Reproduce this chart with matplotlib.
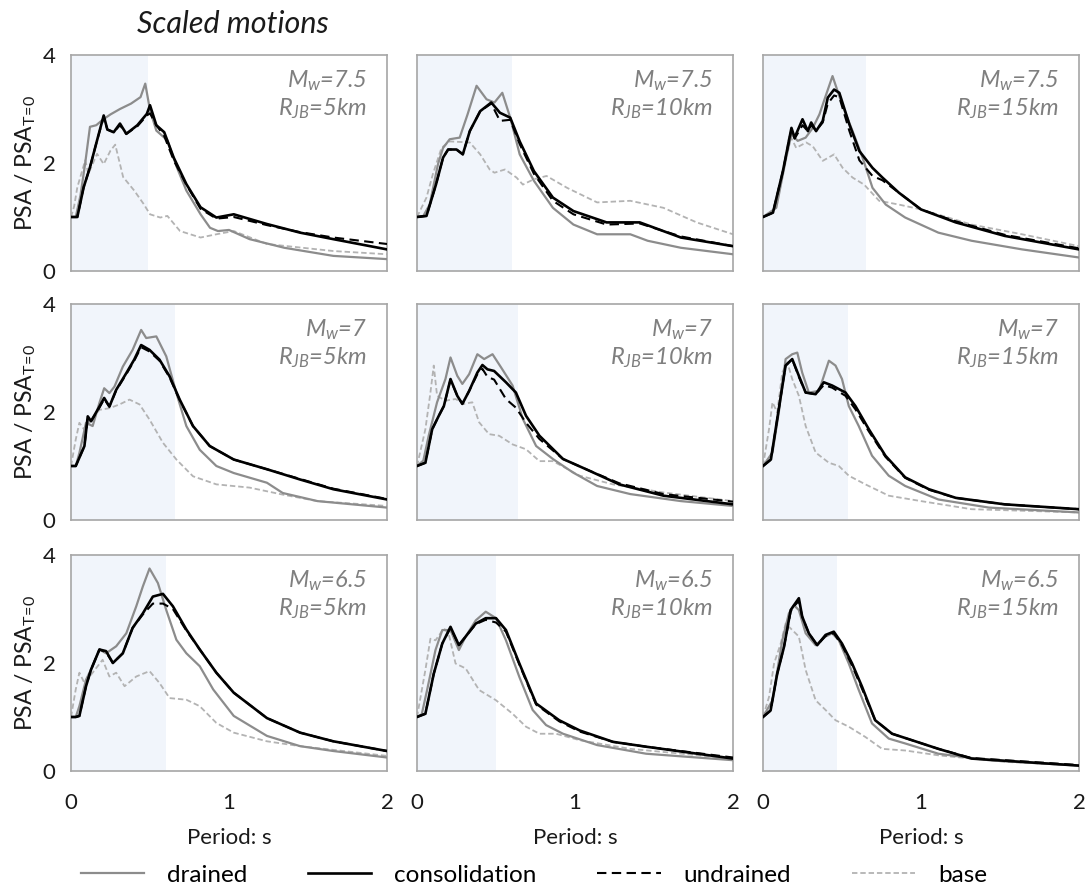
import matplotlib
matplotlib.use("Agg")
import matplotlib.pyplot as plt

plt.rcParams['font.family'] = ['Lato', 'DejaVu Sans']
plt.rcParams['mathtext.fontset'] = 'custom'
plt.rcParams['mathtext.rm'] = 'Lato'
plt.rcParams['mathtext.it'] = 'Lato:italic'
plt.rcParams['mathtext.bf'] = 'Lato:bold'

# ---------------- data ----------------
magnitudes = ["7.5", "7", "6.5"]
distances = ["5km", "10km", "15km"]
shade_end = [[0.49, 0.60, 0.65],
             [0.66, 0.64, 0.54],
             [0.60, 0.50, 0.47]]
series_names = ["drained", "consolidation", "undrained", "base"]
x_ticks = [0, 1, 2]
y_ticks = [0, 2, 4]

# Mw 7.5, R 5 km
d_75_5_T = [0, 0.03, 0.06, 0.09, 0.12, 0.16, 0.2, 0.25, 0.31, 0.38, 0.44, 0.47, 0.50, 0.54, 0.61, 0.67, 0.73, 0.82, 0.88, 0.93, 1.0, 1.13, 1.35, 1.66, 2.0]
d_75_5_V = [1.0, 1.0, 1.4, 2.0, 2.67, 2.7, 2.8, 2.9, 3.0, 3.1, 3.22, 3.47, 2.98, 2.6, 2.42, 1.92, 1.49, 1.05, 0.8, 0.74, 0.76, 0.59, 0.43, 0.28, 0.22]
c_75_5_T = [0, 0.04, 0.08, 0.12, 0.165, 0.207, 0.23, 0.27, 0.31, 0.35, 0.42, 0.48, 0.50, 0.54, 0.59, 0.65, 0.73, 0.82, 0.92, 1.03, 1.24, 1.45, 1.66, 2.0]
c_75_5_V = [1.0, 1.0, 1.55, 1.92, 2.42, 2.88, 2.62, 2.57, 2.73, 2.54, 2.7, 2.91, 3.07, 2.7, 2.57, 2.1, 1.61, 1.18, 0.99, 1.05, 0.87, 0.71, 0.59, 0.4]
u_75_5_T = c_75_5_T
u_75_5_V = [1.0, 1.0, 1.55, 1.92, 2.42, 2.85, 2.62, 2.57, 2.7, 2.54, 2.68, 2.88, 2.92, 2.7, 2.5, 2.05, 1.6, 1.15, 0.97, 1.0, 0.85, 0.72, 0.62, 0.5]
b_75_5_T = [0, 0.02, 0.04, 0.09, 0.11, 0.165, 0.207, 0.25, 0.28, 0.33, 0.40, 0.46, 0.50, 0.565, 0.61, 0.69, 0.82, 0.92, 1.03, 1.24, 1.66, 2.0]
b_75_5_V = [1.0, 1.2, 1.55, 2.05, 1.8, 2.17, 1.98, 2.23, 2.34, 1.74, 1.49, 1.24, 1.05, 0.99, 1.02, 0.74, 0.62, 0.68, 0.74, 0.5, 0.37, 0.31]

# Mw 7.5, R 10 km
d_75_10_T = [0, 0.04, 0.08, 0.133, 0.165, 0.207, 0.27, 0.32, 0.377, 0.44, 0.49, 0.54, 0.59, 0.65, 0.74, 0.86, 0.99, 1.14, 1.35, 1.46, 1.67, 2.0]
d_75_10_V = [1.0, 1.02, 1.23, 1.98, 2.28, 2.44, 2.47, 2.9, 3.43, 3.18, 3.12, 3.3, 2.84, 2.16, 1.67, 1.17, 0.86, 0.68, 0.68, 0.56, 0.43, 0.31]
c_75_10_T = [0, 0.06, 0.12, 0.165, 0.197, 0.25, 0.29, 0.334, 0.4, 0.47, 0.525, 0.59, 0.65, 0.74, 0.86, 0.99, 1.2, 1.41, 1.67, 2.0]
c_75_10_V = [1.0, 1.02, 1.6, 2.1, 2.25, 2.25, 2.16, 2.59, 2.96, 3.12, 2.93, 2.84, 2.4, 1.85, 1.36, 1.11, 0.9, 0.9, 0.62, 0.46]
u_75_10_T = c_75_10_T
u_75_10_V = [1.0, 1.02, 1.6, 2.1, 2.25, 2.25, 2.16, 2.59, 2.96, 3.1, 2.78, 2.8, 2.35, 1.8, 1.3, 1.05, 0.86, 0.88, 0.64, 0.46]
b_75_10_T = [0, 0.06, 0.10, 0.155, 0.207, 0.334, 0.4, 0.46, 0.49, 0.557, 0.63, 0.67, 0.74, 0.82, 0.95, 1.14, 1.35, 1.56, 1.77, 2.0]
b_75_10_V = [1.0, 1.36, 1.79, 2.28, 2.4, 2.38, 2.16, 1.88, 1.82, 1.88, 1.73, 1.6, 1.7, 1.76, 1.54, 1.27, 1.3, 1.17, 0.9, 0.68]

# Mw 7.5, R 15 km
d_75_15_T = [0, 0.084, 0.147, 0.18, 0.22, 0.27, 0.315, 0.357, 0.4, 0.44, 0.5, 0.567, 0.63, 0.693, 0.777, 0.9, 1.11, 1.32, 1.64, 2.0]
d_75_15_V = [1.0, 1.17, 2.1, 2.53, 2.41, 2.47, 2.65, 2.9, 3.27, 3.61, 3.09, 2.59, 2.1, 1.54, 1.23, 0.99, 0.71, 0.56, 0.4, 0.25]
c_75_15_T = [0, 0.063, 0.126, 0.18, 0.2, 0.25, 0.284, 0.305, 0.336, 0.378, 0.41, 0.45, 0.483, 0.546, 0.61, 0.693, 0.756, 0.86, 1.0, 1.22, 1.53, 2.0]
c_75_15_V = [1.0, 1.08, 1.85, 2.65, 2.47, 2.81, 2.59, 2.75, 2.59, 2.78, 3.21, 3.36, 3.3, 2.72, 2.22, 1.91, 1.73, 1.45, 1.14, 0.9, 0.65, 0.4]
u_75_15_T = c_75_15_T
u_75_15_V = [1.0, 1.08, 1.85, 2.62, 2.45, 2.7, 2.59, 2.7, 2.6, 2.75, 3.1, 3.25, 3.22, 2.6, 2.05, 1.76, 1.68, 1.45, 1.14, 0.92, 0.67, 0.42]
b_75_15_T = [0, 0.063, 0.126, 0.168, 0.21, 0.273, 0.315, 0.378, 0.45, 0.504, 0.567, 0.64, 0.735, 0.86, 1.0, 1.32, 1.64, 2.0]
b_75_15_V = [1.0, 1.11, 1.85, 2.53, 2.28, 2.38, 2.31, 2.04, 2.16, 1.91, 1.73, 1.6, 1.3, 1.23, 1.14, 0.86, 0.68, 0.46]

# Mw 7, R 5 km
d_7_5_T = [0, 0.03, 0.053, 0.095, 0.137, 0.18, 0.21, 0.243, 0.275, 0.328, 0.39, 0.444, 0.476, 0.54, 0.603, 0.667, 0.73, 0.815, 0.92, 1.03, 1.24, 1.34, 1.56, 2.0]
d_7_5_V = [1.0, 1.0, 1.24, 1.8, 1.74, 2.17, 2.44, 2.35, 2.47, 2.84, 3.15, 3.52, 3.37, 3.4, 3.03, 2.35, 1.74, 1.3, 1.0, 0.87, 0.69, 0.5, 0.35, 0.23]
c_7_5_T = [0, 0.03, 0.085, 0.106, 0.127, 0.18, 0.21, 0.243, 0.286, 0.35, 0.4, 0.444, 0.497, 0.56, 0.624, 0.688, 0.772, 0.878, 1.03, 1.24, 1.45, 1.66, 2.0]
c_7_5_V = [1.0, 1.0, 1.37, 1.92, 1.83, 2.1, 2.26, 2.1, 2.41, 2.72, 2.97, 3.24, 3.15, 2.97, 2.66, 2.23, 1.74, 1.37, 1.12, 0.94, 0.75, 0.57, 0.38]
u_7_5_T = c_7_5_T
u_7_5_V = [1.0, 1.0, 1.37, 1.9, 1.83, 2.08, 2.24, 2.1, 2.4, 2.7, 2.95, 3.2, 3.12, 2.95, 2.64, 2.22, 1.74, 1.37, 1.12, 0.94, 0.76, 0.58, 0.39]
b_7_5_T = [0, 0.03, 0.053, 0.085, 0.137, 0.18, 0.243, 0.307, 0.37, 0.434, 0.497, 0.582, 0.667, 0.772, 0.92, 1.13, 1.34, 1.56, 2.0]
b_7_5_V = [1.0, 1.49, 1.8, 1.67, 1.89, 2.04, 2.07, 2.14, 2.23, 2.14, 1.86, 1.43, 1.12, 0.81, 0.66, 0.6, 0.47, 0.35, 0.26]

# Mw 7, R 10 km
d_7_10_T = [0, 0.04, 0.074, 0.127, 0.18, 0.212, 0.255, 0.287, 0.33, 0.382, 0.425, 0.478, 0.54, 0.605, 0.67, 0.754, 0.86, 0.987, 1.14, 1.35, 1.67, 2.0]
d_7_10_V = [1.0, 1.1, 1.56, 2.18, 2.61, 3.01, 2.67, 2.52, 2.7, 3.07, 2.98, 3.07, 2.79, 2.49, 1.87, 1.37, 1.13, 0.88, 0.63, 0.48, 0.35, 0.26]
c_7_10_T = [0, 0.053, 0.096, 0.138, 0.17, 0.212, 0.255, 0.287, 0.33, 0.382, 0.414, 0.446, 0.488, 0.563, 0.626, 0.69, 0.775, 0.924, 1.07, 1.28, 1.56, 2.0]
c_7_10_V = [1.0, 1.06, 1.68, 1.93, 2.11, 2.61, 2.3, 2.15, 2.39, 2.73, 2.87, 2.79, 2.76, 2.55, 2.36, 1.93, 1.56, 1.13, 0.94, 0.66, 0.45, 0.29]
u_7_10_T = c_7_10_T
u_7_10_V = [1.0, 1.06, 1.68, 1.93, 2.11, 2.6, 2.3, 2.15, 2.39, 2.7, 2.8, 2.65, 2.6, 2.24, 2.08, 1.8, 1.5, 1.13, 0.94, 0.68, 0.48, 0.34]
b_7_10_T = [0, 0.053, 0.085, 0.106, 0.127, 0.18, 0.244, 0.297, 0.35, 0.393, 0.456, 0.52, 0.605, 0.69, 0.775, 0.86, 1.03, 1.24, 1.56, 2.0]
b_7_10_V = [1.0, 1.68, 2.36, 2.86, 2.3, 2.21, 2.24, 2.15, 2.18, 1.81, 1.59, 1.56, 1.4, 1.31, 1.09, 1.09, 0.82, 0.66, 0.51, 0.35]

# Mw 7, R 15 km
d_7_15_T = [0, 0.06, 0.1, 0.143, 0.185, 0.217, 0.248, 0.29, 0.354, 0.417, 0.459, 0.5, 0.543, 0.606, 0.69, 0.796, 0.9, 1.11, 1.43, 2.0]
d_7_15_V = [1.0, 1.25, 1.99, 2.98, 3.07, 3.1, 2.73, 2.36, 2.39, 2.95, 2.86, 2.61, 2.11, 1.74, 1.19, 0.82, 0.63, 0.38, 0.23, 0.14]
c_7_15_T = [0, 0.05, 0.09, 0.143, 0.185, 0.227, 0.27, 0.333, 0.385, 0.438, 0.522, 0.585, 0.67, 0.775, 0.9, 1.05, 1.22, 1.53, 2.0]
c_7_15_V = [1.0, 1.12, 1.87, 2.86, 2.98, 2.67, 2.36, 2.33, 2.55, 2.49, 2.36, 2.11, 1.68, 1.19, 0.79, 0.57, 0.41, 0.29, 0.2]
u_7_15_T = c_7_15_T
u_7_15_V = [1.0, 1.12, 1.87, 2.86, 2.98, 2.65, 2.36, 2.33, 2.5, 2.45, 2.3, 2.05, 1.64, 1.17, 0.78, 0.56, 0.41, 0.29, 0.2]
b_7_15_T = [0, 0.038, 0.06, 0.09, 0.122, 0.154, 0.185, 0.227, 0.27, 0.333, 0.417, 0.48, 0.543, 0.648, 0.796, 1.0, 1.32, 2.0]
b_7_15_V = [1.0, 1.68, 2.18, 1.99, 2.73, 2.92, 2.61, 2.3, 1.74, 1.25, 1.06, 1.0, 0.82, 0.66, 0.45, 0.35, 0.2, 0.14]

# Mw 6.5, R 5 km
d_65_5_T = [0, 0.03, 0.053, 0.095, 0.137, 0.18, 0.222, 0.286, 0.35, 0.413, 0.455, 0.497, 0.55, 0.603, 0.667, 0.73, 0.815, 0.9, 1.03, 1.24, 1.45, 1.66, 2.0]
d_65_5_V = [1.0, 1.0, 1.2, 1.69, 1.94, 2.25, 2.18, 2.31, 2.55, 3.05, 3.42, 3.75, 3.48, 2.98, 2.43, 2.18, 1.94, 1.51, 1.02, 0.65, 0.46, 0.37, 0.25]
c_65_5_T = [0, 0.03, 0.053, 0.095, 0.127, 0.18, 0.222, 0.265, 0.328, 0.39, 0.455, 0.518, 0.582, 0.645, 0.73, 0.815, 0.92, 1.03, 1.24, 1.45, 1.66, 2.0]
c_65_5_V = [1.0, 1.0, 1.02, 1.57, 1.88, 2.25, 2.22, 2.0, 2.18, 2.65, 2.92, 3.23, 3.28, 3.05, 2.62, 2.25, 1.82, 1.45, 0.98, 0.71, 0.55, 0.37]
u_65_5_T = c_65_5_T
u_65_5_V = [1.0, 1.0, 1.02, 1.57, 1.88, 2.25, 2.2, 2.0, 2.18, 2.65, 2.9, 3.1, 3.1, 3.0, 2.6, 2.25, 1.82, 1.45, 0.98, 0.71, 0.55, 0.37]
b_65_5_T = [0, 0.03, 0.053, 0.085, 0.137, 0.2, 0.243, 0.286, 0.339, 0.413, 0.497, 0.56, 0.624, 0.73, 0.815, 0.92, 1.03, 1.24, 1.45, 2.0]
b_65_5_V = [1.0, 1.51, 1.82, 1.63, 1.82, 2.06, 1.75, 1.82, 1.57, 1.75, 1.85, 1.63, 1.35, 1.32, 1.2, 0.89, 0.71, 0.55, 0.46, 0.28]

# Mw 6.5, R 10 km
d_65_10_T = [0, 0.03, 0.064, 0.117, 0.16, 0.212, 0.265, 0.308, 0.372, 0.435, 0.5, 0.563, 0.648, 0.732, 0.817, 0.924, 1.14, 1.45, 2.0]
d_65_10_V = [1.0, 1.05, 1.5, 2.24, 2.61, 2.61, 2.24, 2.49, 2.79, 2.95, 2.83, 2.42, 1.74, 1.13, 0.85, 0.69, 0.48, 0.32, 0.2]
c_65_10_T = [0, 0.053, 0.106, 0.16, 0.212, 0.265, 0.308, 0.372, 0.435, 0.5, 0.563, 0.648, 0.754, 0.9, 1.03, 1.24, 1.45, 2.0]
c_65_10_V = [1.0, 1.06, 1.8, 2.36, 2.67, 2.33, 2.49, 2.73, 2.83, 2.83, 2.61, 1.99, 1.25, 0.94, 0.75, 0.54, 0.45, 0.23]
u_65_10_T = c_65_10_T
u_65_10_V = [1.0, 1.06, 1.8, 2.36, 2.65, 2.33, 2.49, 2.72, 2.8, 2.75, 2.58, 1.97, 1.23, 0.92, 0.73, 0.54, 0.45, 0.25]
b_65_10_T = [0, 0.053, 0.085, 0.117, 0.17, 0.2, 0.244, 0.308, 0.393, 0.5, 0.605, 0.69, 0.775, 0.88, 1.03, 1.35, 2.0]
b_65_10_V = [1.0, 1.87, 2.45, 2.42, 2.64, 2.55, 1.99, 1.9, 1.5, 1.31, 1.06, 0.82, 0.69, 0.69, 0.57, 0.41, 0.23]

# Mw 6.5, R 15 km
d_65_15_T = [0, 0.06, 0.122, 0.164, 0.196, 0.227, 0.27, 0.333, 0.396, 0.438, 0.48, 0.543, 0.606, 0.69, 0.796, 0.9, 1.11, 1.43, 2.0]
d_65_15_V = [1.0, 1.31, 2.42, 2.92, 3.07, 2.98, 2.55, 2.33, 2.49, 2.55, 2.42, 1.99, 1.5, 0.88, 0.6, 0.51, 0.32, 0.2, 0.1]
c_65_15_T = [0, 0.048, 0.09, 0.133, 0.175, 0.196, 0.227, 0.248, 0.29, 0.343, 0.396, 0.448, 0.5, 0.564, 0.627, 0.71, 0.817, 0.943, 1.11, 1.32, 2.0]
c_65_15_V = [1.0, 1.12, 1.8, 2.3, 2.98, 3.07, 3.2, 2.86, 2.55, 2.33, 2.52, 2.58, 2.36, 1.99, 1.56, 0.94, 0.69, 0.57, 0.41, 0.23, 0.1]
u_65_15_T = c_65_15_T
u_65_15_V = [1.0, 1.12, 1.8, 2.3, 2.95, 3.05, 3.15, 2.86, 2.55, 2.33, 2.5, 2.55, 2.33, 1.95, 1.52, 0.94, 0.69, 0.57, 0.41, 0.24, 0.11]
b_65_15_T = [0, 0.038, 0.07, 0.112, 0.143, 0.175, 0.227, 0.27, 0.333, 0.396, 0.459, 0.543, 0.648, 0.754, 0.9, 1.11, 1.53, 2.0]
b_65_15_V = [1.0, 1.37, 1.99, 2.36, 2.73, 2.64, 2.49, 1.87, 1.31, 1.13, 0.94, 0.82, 0.63, 0.41, 0.38, 0.29, 0.17, 0.1]

panels = [
    [[(d_75_5_T, d_75_5_V), (c_75_5_T, c_75_5_V), (u_75_5_T, u_75_5_V), (b_75_5_T, b_75_5_V)],
     [(d_75_10_T, d_75_10_V), (c_75_10_T, c_75_10_V), (u_75_10_T, u_75_10_V), (b_75_10_T, b_75_10_V)],
     [(d_75_15_T, d_75_15_V), (c_75_15_T, c_75_15_V), (u_75_15_T, u_75_15_V), (b_75_15_T, b_75_15_V)]],
    [[(d_7_5_T, d_7_5_V), (c_7_5_T, c_7_5_V), (u_7_5_T, u_7_5_V), (b_7_5_T, b_7_5_V)],
     [(d_7_10_T, d_7_10_V), (c_7_10_T, c_7_10_V), (u_7_10_T, u_7_10_V), (b_7_10_T, b_7_10_V)],
     [(d_7_15_T, d_7_15_V), (c_7_15_T, c_7_15_V), (u_7_15_T, u_7_15_V), (b_7_15_T, b_7_15_V)]],
    [[(d_65_5_T, d_65_5_V), (c_65_5_T, c_65_5_V), (u_65_5_T, u_65_5_V), (b_65_5_T, b_65_5_V)],
     [(d_65_10_T, d_65_10_V), (c_65_10_T, c_65_10_V), (u_65_10_T, u_65_10_V), (b_65_10_T, b_65_10_V)],
     [(d_65_15_T, d_65_15_V), (c_65_15_T, c_65_15_V), (u_65_15_T, u_65_15_V), (b_65_15_T, b_65_15_V)]],
]

# ---------------- styling ----------------
styles = [
    dict(color='#8c8c8c', lw=1.6, ls='-'),
    dict(color='#000000', lw=1.9, ls='-'),
    dict(color='#000000', lw=1.5, ls=(0, (4.5, 2.6))),
    dict(color='#b3b3b3', lw=1.3, ls=(0, (3, 1.6))),
]
zorders = [3, 5, 4, 2]
shade_color = '#f1f5fb'
spine_color = '#a6a6a6'
text_gray = '#7f7f7f'
text_dark = '#1a1a1a'

W, H = 1086, 888
fig = plt.figure(figsize=(W / 100, H / 100), dpi=100)

col_left = [71, 417, 763]
row_top = [55, 304, 555]
aw, ah = 316, 216

for r in range(3):
    for c in range(3):
        ax = fig.add_axes([col_left[c] / W, 1 - (row_top[r] + ah) / H, aw / W, ah / H])
        ax.axvspan(0, shade_end[r][c], color=shade_color, lw=0, zorder=0)
        for k, (T, V) in enumerate(panels[r][c]):
            ax.plot(T, V, label=series_names[k], zorder=zorders[k],
                    solid_joinstyle='round', dash_capstyle='butt', **styles[k])
        ax.set_xlim(0, 2)
        ax.set_ylim(0, 4)
        ax.set_xticks(x_ticks)
        ax.set_yticks(y_ticks)
        ax.tick_params(length=0, labelsize=16, colors=text_dark)
        ax.tick_params(axis='y', pad=11)
        ax.tick_params(axis='x', pad=16)
        for s in ax.spines.values():
            s.set_color(spine_color)
            s.set_linewidth(1.2)
        if c != 0:
            ax.set_yticklabels([])
        else:
            ax.set_ylabel(r"PSA / PSA$_\mathregular{T\!=\!0}$", fontsize=16.5, color=text_dark)
            ax.yaxis.set_label_coords(-0.105, 0.5)
        if r != 2:
            ax.set_xticklabels([])
        else:
            ax.set_xlabel("Period: s", fontsize=16, color=text_dark, va='center')
            ax.xaxis.set_label_coords(0.5, -(838 - (row_top[r] + ah)) / ah)
        ax.text(0.937, 0.88, r"$M_w$" + "=" + magnitudes[r], transform=ax.transAxes,
                ha='right', va='center', fontsize=17, color=text_gray, style='italic')
        ax.text(0.937, 0.75, r"$R_{JB}$" + "=" + distances[c], transform=ax.transAxes,
                ha='right', va='center', fontsize=17, color=text_gray, style='italic')
        if r == 0 and c == 0:
            handles, labels = ax.get_legend_handles_labels()

fig.text(137 / W, 1 - 33 / H, "Scaled motions", fontsize=22, style='italic',
         color=text_dark, va='baseline', ha='left')

fig.legend(handles, labels, loc='center', bbox_to_anchor=(534 / W, 1 - 875 / H), ncol=4,
           frameon=False, fontsize=17.5, handlelength=2.6, columnspacing=2.5,
           handletextpad=0.95)

fig.savefig("out.png", dpi=100)
